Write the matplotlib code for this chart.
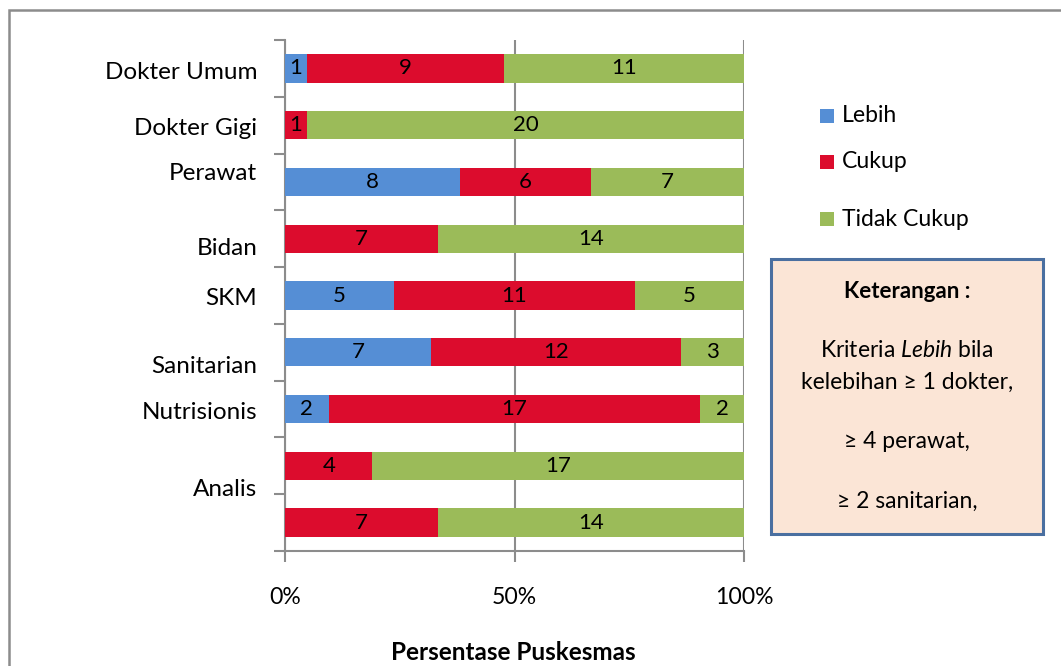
import numpy as np
import matplotlib
matplotlib.use("Agg")
import matplotlib.pyplot as plt
from matplotlib.patches import Rectangle

plt.rcParams['font.family'] = ['Lato', 'DejaVu Sans']
plt.rcParams['mathtext.fontset'] = 'custom'
plt.rcParams['mathtext.rm'] = 'Lato'
plt.rcParams['mathtext.it'] = 'Lato:italic'

# data (top to bottom, 9 bars, last one has no label)
lebih = [1, 0, 8, 0, 5, 7, 2, 0, 0]
cukup = [9, 1, 6, 7, 11, 12, 17, 4, 7]
tidak = [11, 20, 7, 14, 5, 3, 2, 17, 14]
series_names = ['Lebih', 'Cukup', 'Tidak Cukup']
colors = ['#558ed5', '#dc0c2d', '#9bbb59']

# category labels sit a little off the bars in the original
labels = ['Dokter Umum', 'Dokter Gigi', 'Perawat', 'Bidan', 'SKM',
          'Sanitarian', 'Nutrisionis', 'Analis']
label_pos = [0.03, 1.03, 1.82, 3.14, 4.02, 5.22, 6.03, 7.39]

counts = np.array([lebih, cukup, tidak], dtype=float)
totals = counts.sum(axis=0)
pct = counts / totals * 100
y = np.arange(len(lebih))

fig = plt.figure(figsize=(10.61, 6.66), dpi=100)
ax = fig.add_axes([285/1061, 1 - 551/666, (744-285)/1061, (551-40)/666])

left = np.zeros(len(lebih))
for i in range(3):
    ax.barh(y, pct[i], left=left, height=0.5, color=colors[i], zorder=3)
    for j in range(len(y)):
        if counts[i][j] > 0:
            ax.text(left[j] + pct[i][j] / 2, y[j], str(int(counts[i][j])),
                    ha='center', va='center', fontsize=16, color='black', zorder=4)
    left += pct[i]

ax.set_xlim(0, 100)
ax.set_ylim(len(y) - 0.5, -0.5)
ax.set_xticks([0, 50, 100])
ax.set_xticklabels(['0%', '50%', '100%'], fontsize=16.6)
ax.tick_params(axis='x', length=8, width=1.5, color='#8c8c8c', pad=18)
ax.xaxis.grid(True, color='#8c8c8c', linewidth=1.5, zorder=0)

ax.set_yticks(label_pos)
ax.set_yticklabels(labels, fontsize=17.5)
ax.tick_params(axis='y', which='major', length=0, pad=20)
ax.set_yticks(np.arange(-0.5, len(y)), minor=True)
ax.tick_params(axis='y', which='minor', length=8, width=1.5, color='#8c8c8c')

for s in ['top', 'right']:
    ax.spines[s].set_visible(False)
for s in ['left', 'bottom']:
    ax.spines[s].set_color('#8c8c8c')
    ax.spines[s].set_linewidth(1.5)

fig.text(513/1061, 1 - 652/666, 'Persentase Puskesmas', ha='center', va='center',
         fontsize=17.5, fontweight='bold')

# legend with uneven spacing
leg_y = [116, 162, 219]
for name, c, ly in zip(series_names, colors, leg_y):
    fig.patches.append(Rectangle((820/1061, 1 - (ly + 7)/666), 14/1061, 14/666,
                                 transform=fig.transFigure, facecolor=c, edgecolor='none'))
    fig.text(842/1061, 1 - ly/666, name, ha='left', va='center', fontsize=16.6)

# note box
fig.patches.append(Rectangle((771/1061, 1 - 534/666), (1043-771)/1061, (534-259)/666,
                             transform=fig.transFigure, facecolor='#fbe5d6',
                             edgecolor='#4a6fa0', linewidth=2.2))
cx = 907/1061
fig.text(cx, 1 - 292/666, 'Keterangan :', ha='center', va='center', fontsize=16, fontweight='bold')
fig.text(cx, 1 - 351/666, 'Kriteria $\\mathit{Lebih}$ bila', ha='center', va='center', fontsize=16.5)
fig.text(cx, 1 - 382/666, 'kelebihan ≥ 1 dokter,', ha='center', va='center', fontsize=16.5)
fig.text(cx, 1 - 441/666, '≥ 4 perawat,', ha='center', va='center', fontsize=16.5)
fig.text(cx, 1 - 501/666, '≥ 2 sanitarian,', ha='center', va='center', fontsize=16.5)

# outer chart border
fig.patches.append(Rectangle((9/1061, -0.1), 1.2, 1.1 - 10/666, transform=fig.transFigure,
                             facecolor='none', edgecolor='#8c8c8c', linewidth=1.8))

fig.savefig('out.png', dpi=100)
